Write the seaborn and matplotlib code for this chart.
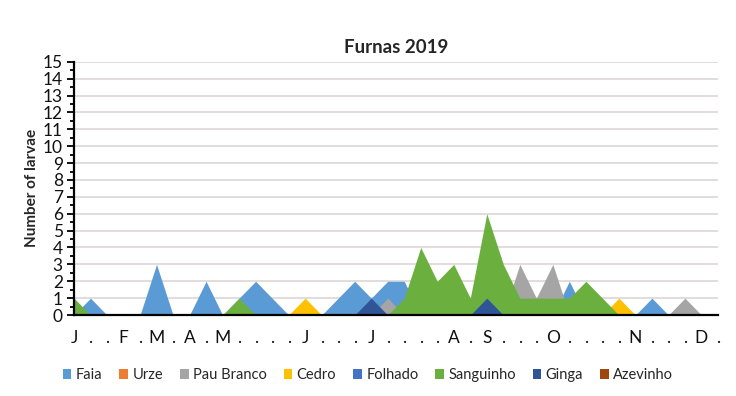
import matplotlib
matplotlib.use('Agg')
import numpy as np
import pandas as pd
import seaborn as sns
import matplotlib.pyplot as plt
from matplotlib.patches import Patch

# =========================================
# DATA
# =========================================

x_labels = [
    "J", ".", ".", "F", ".", "M", ".", "A", ".", "M",
    ".", ".", ".", ".", "J", ".", ".", ".", "J", ".",
    ".", ".", ".", "A", ".", "S", ".", ".", ".", "O",
    ".", ".", ".", ".", "N", ".", ".", ".", "D", "."
]

faia = [0, 1, 0, 0, 0, 3, 0, 0, 2, 0,
        1, 2, 1, 0, 0, 0, 1, 2, 1, 2,
        2, 0, 0, 0, 0, 0, 0, 0, 0, 0,
        2, 0, 0, 0, 0, 1, 0, 0, 0, 0]

urze = [0] * 40

pau_branco = [0, 0, 0, 0, 0, 0, 0, 0, 0, 0,
              0, 0, 0, 0, 0, 0, 0, 0, 0, 1,
              0, 0, 0, 0, 0, 0, 0, 3, 1, 3,
              0, 0, 0, 0, 0, 0, 0, 1, 0, 0]

cedro = [0, 0, 0, 0, 0, 0, 0, 0, 0, 0,
         0, 0, 0, 0, 1, 0, 0, 0, 0, 0,
         0, 0, 0, 0, 0, 0, 0, 0, 0, 0,
         0, 0, 0, 1, 0, 0, 0, 0, 0, 0]

folhado = [0] * 40

sanguinho = [1, 0, 0, 0, 0, 0, 0, 0, 0, 0,
             1, 0, 0, 0, 0, 0, 0, 0, 0, 0,
             1, 4, 2, 3, 1, 6, 3, 1, 1, 1,
             1, 2, 1, 0, 0, 0, 0, 0, 0, 0]

ginga = [0, 0, 0, 0, 0, 0, 0, 0, 0, 0,
         0, 0, 0, 0, 0, 0, 0, 0, 1, 0,
         0, 0, 0, 0, 0, 1, 0, 0, 0, 0,
         0, 0, 0, 0, 0, 0, 0, 0, 0, 0]

azevinho = [0] * 40

series_names = ["Faia", "Urze", "Pau Branco", "Cedro",
                "Folhado", "Sanguinho", "Ginga", "Azevinho"]

series_values = [faia, urze, pau_branco, cedro,
                 folhado, sanguinho, ginga, azevinho]

colors = ["#5B9BD5", "#ED7D31", "#A5A5A5", "#FFC000",
          "#4472C4", "#6BB03F", "#2F5597", "#9E480E"]

# =========================================
# DATAFRAME
# =========================================

rows = []

for name, vals in zip(series_names, series_values):

    for i, v in enumerate(vals):

        rows.append({"idx": i, "value": v, "series": name})

df = pd.DataFrame(rows)

# =========================================
# PLOT
# =========================================

sns.set_theme(style="white")
plt.rcParams['font.family'] = ['Lato', 'DejaVu Sans']

fig = plt.figure(figsize=(7.36, 3.96), dpi=100)

ax = fig.add_axes([0.1005, 0.2045, 0.875, 0.6395])

sns.lineplot(
    data=df,
    x="idx",
    y="value",
    hue="series",
    hue_order=series_names,
    palette=colors,
    linewidth=0,
    legend=False,
    ax=ax
)

# area (not stacked, later series on top)
for k, name in enumerate(series_names):

    sub = df[df["series"] == name]

    ax.fill_between(
        sub["idx"],
        0,
        sub["value"],
        color=colors[k],
        linewidth=0,
        zorder=2 + k
    )

ax.set_xlim(0, 39)
ax.set_ylim(0, 15)

ax.set_xticks(range(len(x_labels)))
ax.set_xticklabels(x_labels, fontsize=12.5)

ax.set_yticks(range(0, 16))
ax.set_yticks(np.arange(0.5, 15, 1), minor=True)
ax.tick_params(axis='y', labelsize=12.5)

ax.grid(axis='y', color="#DAD2D2", linewidth=1.1)
ax.set_axisbelow(True)

ax.tick_params(axis='x', which='major', direction='out', length=5,
               width=1.3, color='black', pad=6, labelcolor='#111111')
ax.tick_params(axis='y', which='major', direction='out', length=5,
               width=1.3, color='black', pad=3, left=True,
               labelcolor='#111111')
ax.tick_params(axis='y', which='minor', direction='out', length=3,
               width=1.3, color='black', left=True)

for side in ["top", "right"]:
    ax.spines[side].set_visible(False)

for side in ["left", "bottom"]:
    ax.spines[side].set_color("black")
    ax.spines[side].set_linewidth(1.6)
    ax.spines[side].set_zorder(20)

ax.set_xlabel("")
ax.set_ylabel("Number of larvae", fontsize=11, fontweight='bold', labelpad=3)

ax.set_title("Furnas 2019", fontsize=13.5, fontweight='bold', pad=6)

# =========================================
# LEGEND
# =========================================

handles = [Patch(facecolor=c, edgecolor='none') for c in colors]

fig.legend(
    handles,
    series_names,
    loc='center',
    bbox_to_anchor=(0.5, 0.053),
    ncol=8,
    frameon=False,
    fontsize=10.5,
    handlelength=0.6,
    handleheight=0.6,
    handletextpad=0.3,
    columnspacing=1.15
)

fig.savefig("out.png", dpi=100)

plt.close(fig)
